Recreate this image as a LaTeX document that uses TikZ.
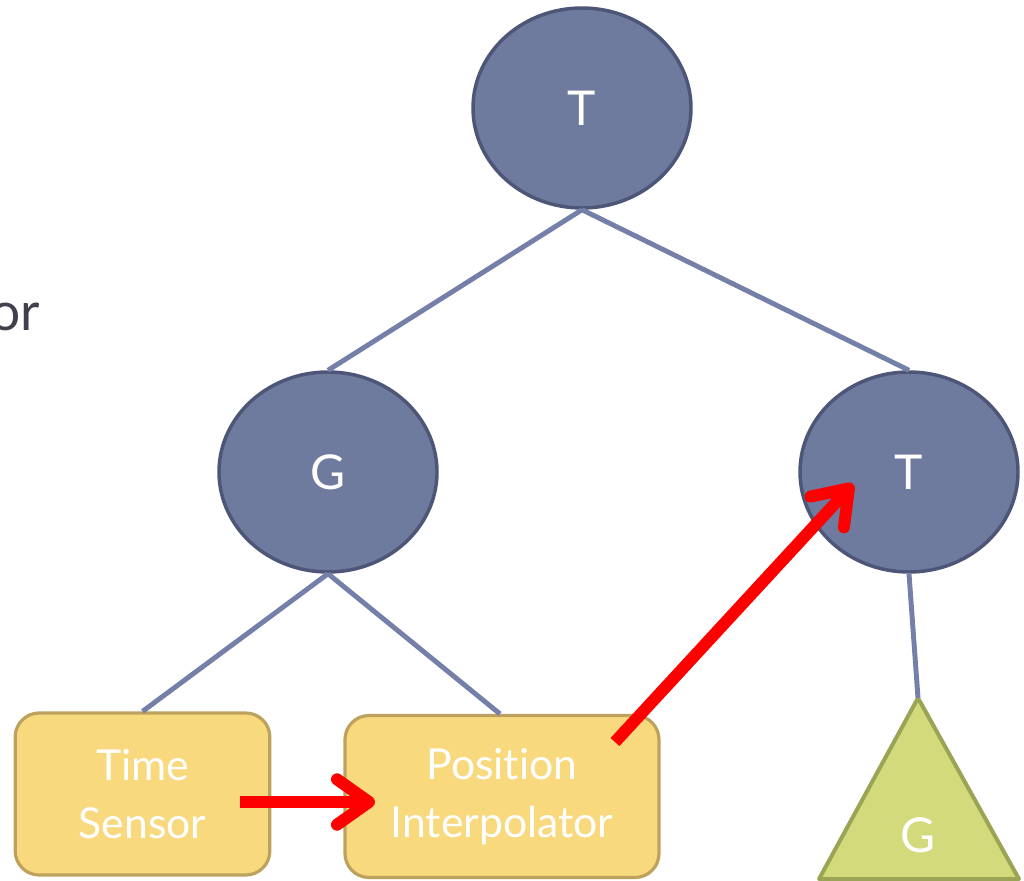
\documentclass[tikz,border=0pt]{standalone}
\usepackage{fontspec}
\setmainfont[Ligatures={NoCommon,NoRequired}]{Lato}
\usetikzlibrary{shapes.geometric,arrows.meta}

\definecolor{nodefill}{HTML}{6F7A9F}
\definecolor{nodeedge}{HTML}{4D5677}
\definecolor{edgeblue}{HTML}{7480A8}
\definecolor{boxfill}{HTML}{F9D97E}
\definecolor{boxedge}{HTML}{BDA25D}
\definecolor{leaffill}{HTML}{D3DA7B}
\definecolor{leafedge}{HTML}{9BA355}
\definecolor{ortext}{HTML}{40404E}

\tikzstyle{treenode}=[ellipse,
                      draw=nodeedge,
                      line width=2.6pt,
                      fill=nodefill,
                      text=white,
                      minimum width=163.5pt,
                      minimum height=150pt,
                      font=\fontsize{36}{40}\selectfont]
\tikzstyle{fieldbox}=[rectangle,
                      rounded corners=18pt,
                      draw=boxedge,
                      line width=2.4pt,
                      fill=boxfill,
                      text=white,
                      align=center,
                      minimum height=121.5pt,
                      font=\fontsize{32}{43.5}\selectfont]
\tikzstyle{edge}=[draw=edgeblue, line width=3.7pt]
\tikzstyle{route}=[draw=red, line width=9pt,
                   -{Straight Barb[length=24pt,width=34pt,round]}]

\begin{document}
\begin{tikzpicture}[x=0.75pt,y=-0.75pt]
    \useasboundingbox (0,0) rectangle (1024,881);
    \clip (0,0) rectangle (1024,881);

    \node [anchor=base east, text=ortext, font=\fontsize{40}{48}\selectfont] (orword) at (45,330) {or};

    % scene graph
    \node [treenode] (troot) at (582,108) {T};
    \node [treenode] (grp) at (328,472) {G};
    \node [treenode] (trans) at (909,472) {T};
    \node [fieldbox, minimum width=191pt] (sensor) at (142.5,794) {Time\\Sensor};
    \node [fieldbox, minimum width=235.5pt] (interp) at (502,796.5) {Position\\Interpolator};

    % subgraph triangle
    \coordinate (leaftop) at (918,698);
    \draw [fill=leaffill, draw=leafedge, line width=3pt, line join=round]
        (leaftop) -- (1019,879) -- (819,879) -- cycle;
    \node [text=white, font=\fontsize{36}{40}\selectfont] (leaf) at (918,835) {G};

    \draw [edge] (troot.south) -- (grp.north);
    \draw [edge] (troot.south) -- (trans.north);
    \draw [edge] (grp.south) -- (sensor.north);
    \draw [edge] (grp.south) -- (interp.north -| 500,0);
    \draw [edge] (trans.south) -- (leaftop);

    % routes
    \coordinate (tick) at (240,802);
    \coordinate (fraction) at (375,802);
    \coordinate (value) at (615,742);
    \coordinate (translation) at (853,484);
    \draw [route] (tick) -- (fraction);
    \draw [route] (value) -- (translation);
\end{tikzpicture}
\end{document}
